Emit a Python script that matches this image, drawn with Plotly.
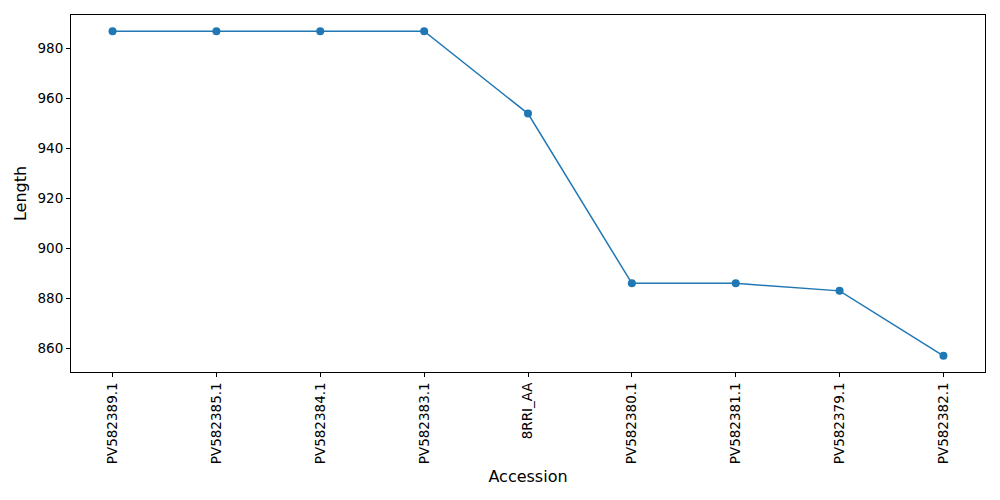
import plotly.graph_objects as go

accessions = ["PV582389.1", "PV582385.1", "PV582384.1", "PV582383.1", "8RRI_AA",
              "PV582380.1", "PV582381.1", "PV582379.1", "PV582382.1"]
lengths = [987, 987, 987, 987, 954, 886, 886, 883, 857]
y_ticks = [860, 880, 900, 920, 940, 960, 980]

fig = go.Figure()
fig.add_trace(go.Scatter(
    x=list(range(len(accessions))), y=lengths,
    mode="lines+markers",
    line=dict(color="#1f77b4", width=1.5),
    marker=dict(color="#1f77b4", size=8),
))

axis_style = dict(
    showline=True, linecolor="black", linewidth=1, mirror=True,
    ticks="outside", ticklen=4, tickcolor="black", showgrid=False, zeroline=False,
    tickfont=dict(family="DejaVu Sans", size=13.5, color="black"),
    automargin=False,
)

# page body has a default 8px margin, so the margins here allow for it
fig.update_layout(
    width=1000, height=500,
    margin=dict(l=63, r=23, t=7, b=136),
    plot_bgcolor="white", paper_bgcolor="white",
    showlegend=False,
    font=dict(family="DejaVu Sans", size=13.5, color="black"),
    xaxis=dict(
        tickmode="array", tickvals=list(range(len(accessions))), ticktext=accessions,
        tickangle=-90, range=[-0.4, 8.4],
        title=dict(text="Accession", standoff=7),
        **axis_style,
    ),
    yaxis=dict(
        tickmode="array", tickvals=y_ticks, range=[850.5, 993.5],
        title=dict(text="Length", standoff=6),
        **axis_style,
    ),
)

fig.write_html("out.html")
